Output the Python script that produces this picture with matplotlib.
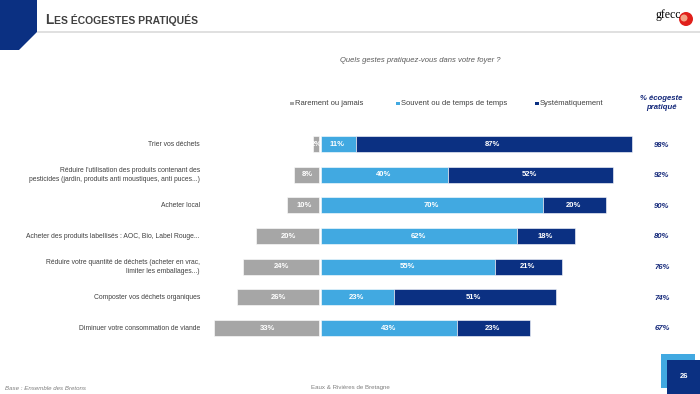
import matplotlib
matplotlib.use("Agg")
import matplotlib.pyplot as plt
from matplotlib.patches import Polygon, Rectangle, Ellipse
import numpy as np

plt.rcParams['font.family'] = ['Liberation Sans', 'DejaVu Sans']

categories = [
    "Trier vos déchets",
    "Réduire l'utilisation des produits contenant des\npesticides (jardin, produits anti moustiques, anti puces...)",
    "Acheter local",
    "Acheter des produits labellisés : AOC, Bio, Label Rouge...",
    "Réduire votre quantité de déchets (acheter en vrac,\nlimiter les emballages...)",
    "Composter vos déchets organiques",
    "Diminuer votre consommation de viande",
]
rarement = [2, 8, 10, 20, 24, 26, 33]
souvent = [11, 40, 70, 62, 55, 23, 43]
systematique = [87, 52, 20, 18, 21, 51, 23]
pct_pratique = ["98%", "92%", "90%", "80%", "76%", "74%", "67%"]
series_names = ["Rarement ou jamais", "Souvent ou de temps de temps", "Systématiquement"]

W, H = 700, 394
fig = plt.figure(figsize=(7, 3.94), dpi=100)

def fx(x):
    return x / W

def fy(y):
    return 1 - y / H

GRAY = "#A6A6A6"
LBLUE = "#41A9E1"
DBLUE = "#0B3082"
TXT = "#404040"

# Axes for bars
pxs = 3.17
zero_px = 320
ax_l, ax_r = 200, 650
row0, rowN = 144, 328
sp = (rowN - row0) / 6
ax_t, ax_b = row0 - sp / 2, rowN + sp / 2
ax = fig.add_axes([fx(ax_l), fy(ax_b), fx(ax_r - ax_l), (ax_b - ax_t) / H])
ax.set_xlim(-(zero_px - ax_l) / pxs, (ax_r - zero_px) / pxs)
ax.set_ylim(6.5, -0.5)
ax.axis("off")

y = np.arange(len(categories))
r = np.array(rarement)
s = np.array(souvent)
m = np.array(systematique)
bh = 0.53
ax.barh(y, -r, left=-0.3, height=bh, color=GRAY, edgecolor="white", linewidth=0.4)
ax.barh(y, s, left=0.3, height=bh, color=LBLUE, edgecolor="white", linewidth=0.4)
ax.barh(y, m, left=0.3 + s, height=bh, color=DBLUE, edgecolor="white", linewidth=0.4)

for i in range(len(categories)):
    ax.text(-r[i] / 2, i, f"{r[i]}%", ha="center", va="center", color="white",
            fontsize=5.5, fontweight="bold")
    ax.text(s[i] / 2, i, f"{s[i]}%", ha="center", va="center", color="white",
            fontsize=5.5, fontweight="bold")
    ax.text(s[i] + m[i] / 2, i, f"{m[i]}%", ha="center", va="center", color="white",
            fontsize=5.5, fontweight="bold")
    py = row0 + i * sp
    fig.text(fx(200), fy(py), categories[i], ha="right", va="center", color=TXT,
             fontsize=4.9, linespacing=1.45, multialignment="right")
    fig.text(fx(662), fy(py + 1), pct_pratique[i], ha="center", va="center",
             color="#14287A", fontsize=5.6, fontweight="bold", style="italic")

# Header decorations
fig.patches.append(Polygon([[fx(0), fy(0)], [fx(37), fy(0)], [fx(37), fy(32)],
                            [fx(19), fy(50)], [fx(0), fy(50)]], closed=True,
                           transform=fig.transFigure, facecolor=DBLUE, edgecolor="none"))
fig.add_artist(plt.Line2D([fx(38), fx(700)], [fy(32), fy(32)], color="#DADADA",
                          linewidth=1.2, transform=fig.transFigure))
tL = fig.text(fx(45), fy(24), "L", ha="left", va="baseline", color="#404040",
              fontsize=9.8, fontweight="bold")
fig.canvas.draw()
bb = tL.get_window_extent(renderer=fig.canvas.get_renderer())
fig.text(bb.x1 / fig.bbox.width + 0.001, fy(24), "ES ÉCOGESTES PRATIQUÉS", ha="left",
         va="baseline", color="#404040", fontsize=7.5, fontweight="bold")

# Logo
fig.text(fx(681), fy(15), "gfecc", ha="right", va="center", color="black",
         fontsize=8.5, family="Liberation Serif")
fig.patches.append(Ellipse((fx(686), fy(19)), 14 / W, 14 / H, transform=fig.transFigure,
                           facecolor="#E0201B", edgecolor="none"))
fig.patches.append(Ellipse((fx(684), fy(18)), 7 / W, 7 / H, transform=fig.transFigure,
                           facecolor="#F3A385", edgecolor="none"))

# Subtitle
fig.text(fx(420), fy(61), "Quels gestes pratiquez-vous dans votre foyer ?", ha="center",
         va="center", color="#595959", fontsize=5.5, style="italic")

# Legend
leg_x = [290, 396, 535]
leg_c = [GRAY, LBLUE, DBLUE]
for lx, lc, ln in zip(leg_x, leg_c, series_names):
    fig.patches.append(Rectangle((fx(lx), fy(105)), 3.5 / W, 3.5 / H,
                                 transform=fig.transFigure, facecolor=lc, edgecolor="none"))
    fig.text(fx(lx + 5), fy(103.5), ln, ha="left", va="center", color=TXT, fontsize=5.5)
fig.text(fx(661), fy(103), "% écogeste\npratiqué", ha="center", va="center",
         color="#14287A", fontsize=5.6, fontweight="bold", style="italic", linespacing=1.4)

# Footer
fig.text(fx(5), fy(388), "Base : Ensemble des Bretons", ha="left", va="center",
         color="#7F7F7F", fontsize=4.4, style="italic")
fig.text(fx(350), fy(388), "Eaux & Rivières de Bretagne", ha="center", va="center",
         color="#7F7F7F", fontsize=4.4)
fig.patches.append(Rectangle((fx(661), fy(388)), 34 / W, 34 / H, transform=fig.transFigure,
                             facecolor=LBLUE, edgecolor="none"))
fig.patches.append(Rectangle((fx(667), fy(394)), 33 / W, 34 / H, transform=fig.transFigure,
                             facecolor=DBLUE, edgecolor="none"))
fig.text(fx(684), fy(377), "26", ha="center", va="center", color="white",
         fontsize=5.5, fontweight="bold")

fig.savefig("out.png", dpi=100)
